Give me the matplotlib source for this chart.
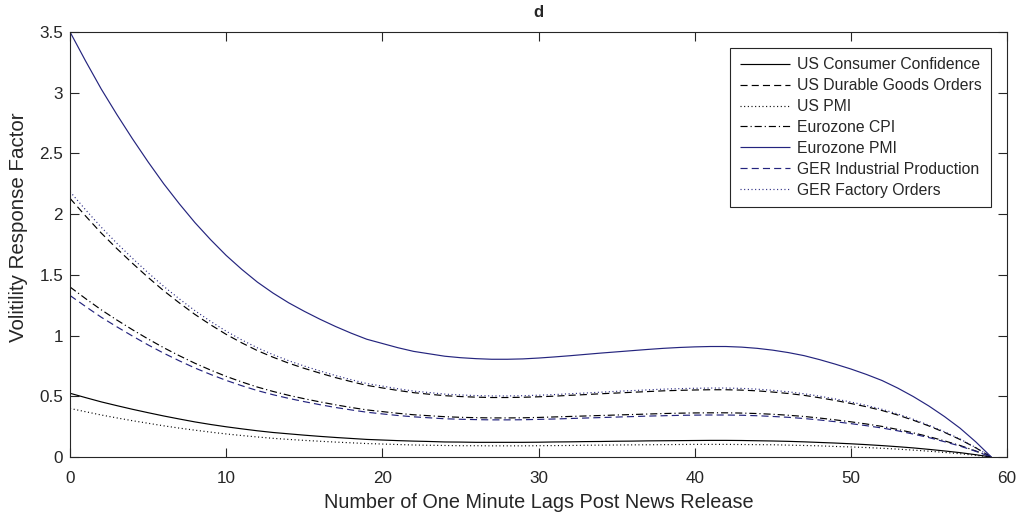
import matplotlib
matplotlib.use("Agg")
import matplotlib.pyplot as plt
from matplotlib.ticker import FuncFormatter, MultipleLocator

plt.rcParams["font.family"] = ["Liberation Sans", "DejaVu Sans"]

# Lag index, minutes after the release
lags = list(range(60))

us_consumer_confidence = [
    0.525, 0.489, 0.454, 0.423, 0.393, 0.365, 0.338, 0.313, 0.289, 0.268,
    0.249, 0.232, 0.216, 0.202, 0.191, 0.180, 0.170, 0.161, 0.153, 0.145,
    0.140, 0.135, 0.131, 0.128, 0.124, 0.123, 0.121, 0.121, 0.121, 0.121,
    0.122, 0.124, 0.125, 0.127, 0.128, 0.130, 0.131, 0.133, 0.134, 0.135,
    0.136, 0.137, 0.137, 0.136, 0.134, 0.132, 0.129, 0.125, 0.120, 0.115,
    0.109, 0.102, 0.094, 0.085, 0.075, 0.063, 0.050, 0.036, 0.019, 0.000,
]
us_durable_goods = [
    2.130, 1.984, 1.844, 1.716, 1.595, 1.479, 1.369, 1.269, 1.174, 1.089,
    1.010, 0.940, 0.876, 0.822, 0.773, 0.730, 0.691, 0.654, 0.621, 0.590,
    0.569, 0.548, 0.530, 0.517, 0.505, 0.498, 0.493, 0.490, 0.490, 0.492,
    0.496, 0.501, 0.508, 0.514, 0.521, 0.527, 0.533, 0.539, 0.545, 0.549,
    0.552, 0.554, 0.554, 0.551, 0.545, 0.535, 0.523, 0.508, 0.488, 0.466,
    0.441, 0.414, 0.383, 0.346, 0.303, 0.256, 0.203, 0.144, 0.076, 0.000,
]
us_pmi = [
    0.400, 0.373, 0.346, 0.322, 0.299, 0.278, 0.257, 0.238, 0.221, 0.205,
    0.190, 0.177, 0.165, 0.154, 0.145, 0.137, 0.130, 0.123, 0.117, 0.111,
    0.107, 0.103, 0.099, 0.097, 0.095, 0.093, 0.093, 0.092, 0.092, 0.092,
    0.093, 0.094, 0.095, 0.097, 0.098, 0.099, 0.100, 0.101, 0.102, 0.103,
    0.104, 0.104, 0.104, 0.103, 0.102, 0.101, 0.098, 0.095, 0.092, 0.087,
    0.083, 0.078, 0.072, 0.065, 0.057, 0.048, 0.038, 0.027, 0.014, 0.000,
]
eurozone_cpi = [
    1.400, 1.304, 1.212, 1.128, 1.048, 0.972, 0.900, 0.834, 0.772, 0.716,
    0.664, 0.618, 0.576, 0.540, 0.508, 0.480, 0.454, 0.430, 0.408, 0.388,
    0.374, 0.360, 0.348, 0.340, 0.332, 0.327, 0.324, 0.322, 0.322, 0.323,
    0.326, 0.330, 0.334, 0.338, 0.342, 0.346, 0.350, 0.354, 0.358, 0.361,
    0.363, 0.364, 0.364, 0.362, 0.358, 0.352, 0.344, 0.334, 0.321, 0.306,
    0.290, 0.272, 0.252, 0.227, 0.199, 0.168, 0.133, 0.095, 0.050, 0.000,
]
eurozone_pmi = [
    3.500, 3.260, 3.030, 2.820, 2.620, 2.430, 2.250, 2.085, 1.930, 1.790,
    1.660, 1.545, 1.440, 1.350, 1.270, 1.200, 1.135, 1.075, 1.020, 0.970,
    0.935, 0.900, 0.870, 0.850, 0.830, 0.818, 0.810, 0.805, 0.805, 0.808,
    0.815, 0.824, 0.834, 0.845, 0.856, 0.866, 0.876, 0.886, 0.895, 0.902,
    0.907, 0.910, 0.910, 0.905, 0.895, 0.880, 0.860, 0.835, 0.802, 0.765,
    0.725, 0.680, 0.630, 0.568, 0.498, 0.420, 0.333, 0.237, 0.125, 0.000,
]
ger_industrial_production = [
    1.330, 1.239, 1.151, 1.072, 0.996, 0.923, 0.855, 0.792, 0.733, 0.680,
    0.631, 0.587, 0.547, 0.513, 0.483, 0.456, 0.431, 0.408, 0.388, 0.369,
    0.355, 0.342, 0.331, 0.323, 0.315, 0.311, 0.308, 0.306, 0.306, 0.307,
    0.310, 0.313, 0.317, 0.321, 0.325, 0.329, 0.333, 0.337, 0.340, 0.343,
    0.345, 0.346, 0.346, 0.344, 0.340, 0.334, 0.327, 0.317, 0.305, 0.291,
    0.275, 0.258, 0.239, 0.216, 0.189, 0.160, 0.126, 0.090, 0.047, 0.000,
]
ger_factory_orders = [
    2.185, 2.035, 1.892, 1.760, 1.636, 1.517, 1.405, 1.302, 1.205, 1.117,
    1.036, 0.964, 0.899, 0.843, 0.793, 0.749, 0.709, 0.671, 0.637, 0.605,
    0.584, 0.562, 0.543, 0.531, 0.518, 0.511, 0.506, 0.503, 0.503, 0.505,
    0.509, 0.514, 0.521, 0.527, 0.534, 0.541, 0.547, 0.553, 0.559, 0.563,
    0.566, 0.568, 0.568, 0.565, 0.559, 0.549, 0.537, 0.521, 0.501, 0.478,
    0.453, 0.425, 0.393, 0.355, 0.311, 0.262, 0.208, 0.148, 0.078, 0.000,
]

series_names = [
    "US Consumer Confidence",
    "US Durable Goods Orders",
    "US PMI",
    "Eurozone CPI",
    "Eurozone PMI",
    "GER Industrial Production",
    "GER Factory Orders",
]
series_values = [
    us_consumer_confidence,
    us_durable_goods,
    us_pmi,
    eurozone_cpi,
    eurozone_pmi,
    ger_industrial_production,
    ger_factory_orders,
]

black = "#000000"
navy = "#24247e"
solid = (0, ())
dashed = (0, (6, 3.5))
dotted = (0, (0.9, 2.2))
dashdot = (0, (6, 2.5, 1, 2.5))
styles = [
    (black, solid),
    (black, dashed),
    (black, dotted),
    (black, dashdot),
    (navy, solid),
    (navy, dashed),
    (navy, dotted),
]

axis_gray = "#262626"

fig = plt.figure(figsize=(10.27, 5.21), dpi=100)
ax = fig.add_axes([0.0682, 0.1228, 0.9123, 0.8158])

for name, vals, (col, ls) in zip(series_names, series_values, styles):
    ax.plot(lags, vals, color=col, linestyle=ls, linewidth=0.85, label=name)

ax.set_xlim(0, 60)
ax.set_ylim(0, 3.5)
ax.xaxis.set_major_locator(MultipleLocator(10))
ax.yaxis.set_major_locator(MultipleLocator(0.5))
ax.yaxis.set_major_formatter(FuncFormatter(lambda v, p: f"{v:g}"))
ax.tick_params(direction="in", top=True, right=True, length=6.5, width=0.8,
               labelsize=12.3, colors=axis_gray)
ax.tick_params(axis="x", pad=10)
ax.tick_params(axis="y", pad=5)
for sp in ax.spines.values():
    sp.set_color(axis_gray)
    sp.set_linewidth(0.8)

ax.set_xlabel("Number of One Minute Lags Post News Release", fontsize=14.3,
              color=axis_gray, labelpad=5)
ax.set_ylabel("Volitility Response Factor", fontsize=14.8, color=axis_gray)
ax.yaxis.set_label_coords(-0.0445, 0.54)
ax.set_title("d", fontsize=12, fontweight="bold", color=axis_gray, pad=11)

leg = ax.legend(loc="upper right", fontsize=11.3, frameon=True, fancybox=False,
                framealpha=1, edgecolor=axis_gray, handlelength=3.2,
                handletextpad=0.45, labelspacing=0.38, borderpad=0.6,
                borderaxespad=1.0)
leg.get_frame().set_linewidth(0.8)
for t in leg.get_texts():
    t.set_color(axis_gray)

fig.savefig("out.png", dpi=100)
